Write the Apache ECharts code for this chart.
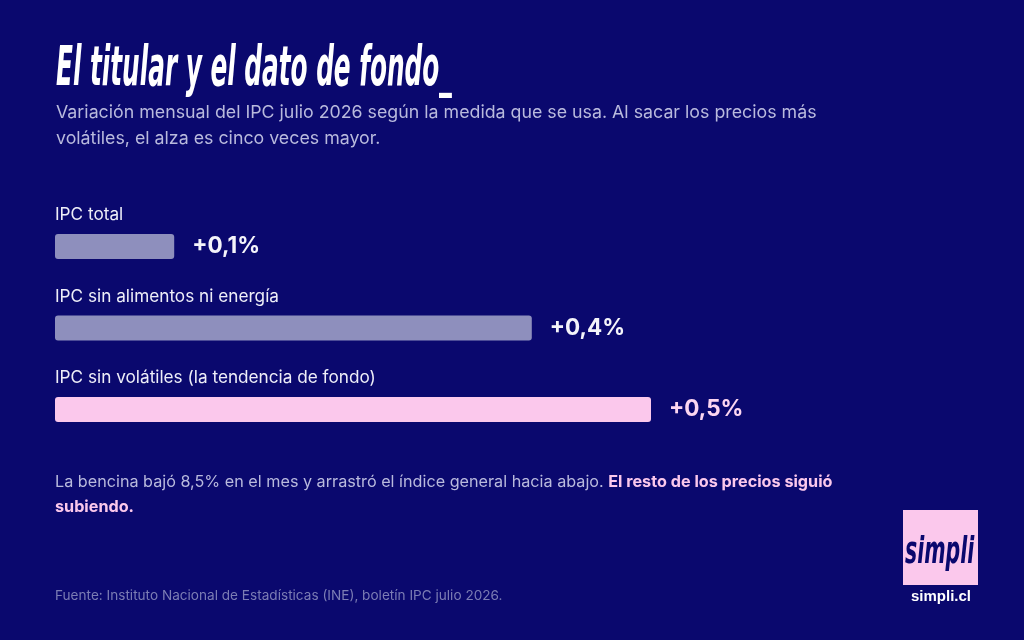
<!DOCTYPE html>
<html>
<head>
<meta charset="utf-8">
<style>
  html, body { margin: 0; padding: 0; background: #0a086e; }
  #chart { width: 1024px; height: 640px; }
</style>
<script src="https://cdn.jsdelivr.net/npm/echarts@6/dist/echarts.min.js"></script>
</head>
<body>
<div id="chart"></div>
<script>
// datos: variación mensual IPC julio 2026
var categorias = ['IPC total', 'IPC sin alimentos ni energía', 'IPC sin volátiles (la tendencia de fondo)'];
var valores = [0.1, 0.4, 0.5];
var destacado = 2; // la barra de "tendencia de fondo"

var chart = echarts.init(document.getElementById('chart'));

var FONT = 'Inter, "Noto Sans", sans-serif';
var GRIS = '#8e8fbd';
var ROSA = '#fbc8ec';

function fmt(v) {
  return '+' + v.toFixed(1).replace('.', ',') + '%';
}

var datos = valores.map(function (v, i) {
  var hi = i === destacado;
  return {
    value: v,
    itemStyle: { color: hi ? ROSA : GRIS },
    label: { color: hi ? '#fcd6f1' : '#f4f4fa' }
  };
});

var option = {
  backgroundColor: '#0a086e',
  grid: { left: 55, width: 596, top: 205.75, height: 244.5 },
  xAxis: {
    type: 'value', min: 0, max: 0.5,
    show: false
  },
  yAxis: {
    type: 'category',
    data: categorias,
    inverse: true,
    axisLine: { show: false },
    axisTick: { show: false },
    axisLabel: {
      inside: true,
      margin: 0,
      color: '#eeeef8',
      fontFamily: FONT,
      fontSize: 17.2,
      verticalAlign: 'bottom',
      padding: [0, 0, 23, 0]
    }
  },
  series: [{
    type: 'bar',
    data: datos,
    barWidth: 25,
    itemStyle: { borderRadius: 3 },
    label: {
      show: true,
      position: 'right',
      distance: 18,
      fontFamily: FONT,
      fontWeight: 'bold',
      fontSize: 22.5,
      formatter: function (p) { return fmt(p.value); }
    },
    silent: true
  }],
  graphic: [
    {
      type: 'text', left: 56, top: 43,
      scaleX: 0.5,
      style: {
        text: 'El titular y el dato de fondo_',
        fill: '#ffffff',
        font: 'italic bold 55px "DejaVu Sans Condensed", "DejaVu Sans", sans-serif'
      }
    },
    {
      type: 'text', left: 56, top: 100,
      style: {
        text: 'Variación mensual del IPC julio 2026 según la medida que se usa. Al sacar los precios más\nvolátiles, el alza es cinco veces mayor.',
        fill: '#b9badd',
        font: '17.8px ' + FONT,
        lineHeight: 26
      }
    },
    {
      type: 'text', left: 55, top: 470,
      style: {
        text: 'La bencina bajó 8,5% en el mes y arrastró el índice general hacia abajo. {b|El resto de los precios siguió}\n{b|subiendo.}',
        fill: '#b9badd',
        font: '16.2px ' + FONT,
        lineHeight: 25,
        rich: {
          b: { fill: '#fbc8ec', fontWeight: 'bold', fontFamily: FONT, fontSize: 16.2, lineHeight: 25 }
        }
      }
    },
    {
      type: 'text', left: 55, top: 589,
      style: {
        text: 'Fuente: Instituto Nacional de Estadísticas (INE), boletín IPC julio 2026.',
        fill: '#7c7db4',
        font: '13.6px ' + FONT
      }
    },
    {
      type: 'rect', left: 903, top: 510,
      shape: { width: 75, height: 75 },
      style: { fill: '#fbc8ec' }
    },
    {
      type: 'text', left: 905, top: 534,
      scaleX: 0.6,
      style: {
        text: 'simpli',
        fill: '#0a086e',
        font: 'italic bold 38px "DejaVu Sans Condensed", "DejaVu Sans", sans-serif'
      }
    },
    {
      type: 'text', left: 911, top: 589,
      style: {
        text: 'simpli.cl',
        fill: '#ffffff',
        font: 'bold 15px "Liberation Sans", Arial, sans-serif'
      }
    }
  ]
};

chart.setOption(option);
</script>
</body>
</html>
